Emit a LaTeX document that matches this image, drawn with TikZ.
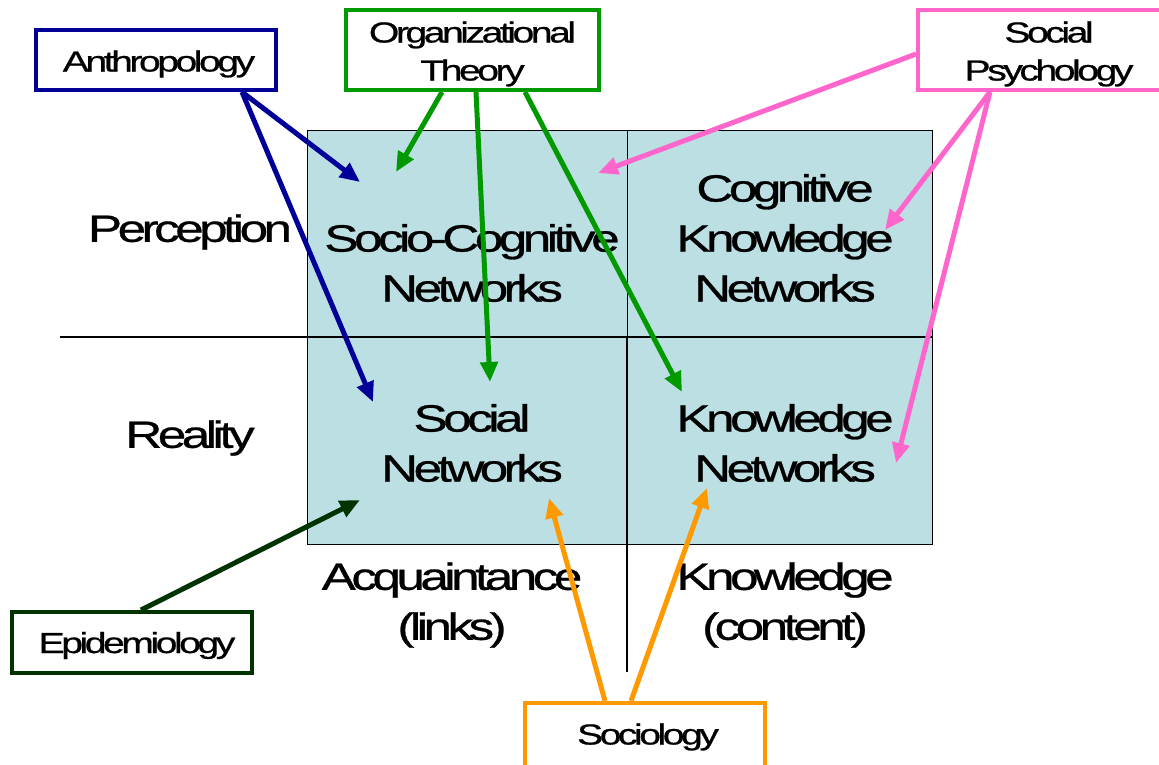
\documentclass[tikz,border=0pt]{standalone}
\usepackage{fontspec}
\newfontfamily\diagfont{Liberation Sans}[FakeStretch=1.35,LetterSpace=-12,FakeBold=0.7]
\usetikzlibrary{arrows.meta,calc}
\definecolor{cellfill}{RGB}{187,223,227}
\definecolor{anthblue}{RGB}{0,0,153}
\definecolor{orggreen}{RGB}{0,153,0}
\definecolor{psypink}{RGB}{255,102,204}
\definecolor{epigreen}{RGB}{0,51,0}
\definecolor{socorange}{RGB}{255,153,0}
\begin{document}
\begin{tikzpicture}[x=1pt,y=-1pt,
  cell/.style={draw=black,line width=1.3pt,fill=cellfill,minimum width=#1,minimum height=207pt,inner sep=0pt},
  bigtext/.style={font=\diagfont\fontsize{38}{50}\selectfont,align=center,inner sep=0pt},
  srcbox/.style={draw=#1,line width=4pt,fill=white,inner sep=0pt},
  boxlabel/.style={font=\diagfont\fontsize{29}{38}\selectfont,align=center,inner sep=0pt},
  link/.style={draw=#1,line width=5pt,-{Triangle[length=20pt,width=17pt]}},
  rule/.style={draw=black,line width=1.3pt}]
\useasboundingbox (0,0) rectangle (1159,764);

% the four cells of the grid
\node[cell=320pt,anchor=north west] (c11) at (307,130) {};
\node[cell=305pt,anchor=north west] (c12) at (627,130) {};
\node[cell=320pt,anchor=north west] (c21) at (307,337) {};
\node[cell=305pt,anchor=north west] (c22) at (627,337) {};
\coordinate (hl) at (60,337);
\coordinate (vl) at (627,672);
\draw[rule] (hl) -- (c22.north east);
\draw[rule] (c12.south west) -- (vl);

% cell and axis labels
\node[bigtext] (perc) at (190,232) {Perception};
\node[bigtext] (real) at (190,438) {Reality};
\node[bigtext] (sc) at (472,263) {Socio-Cognitive\\Networks};
\node[bigtext] (ckn) at (785,238) {Cognitive\\Knowledge\\Networks};
\node[bigtext] (sn) at (472,443) {Social\\Networks};
\node[bigtext] (kn) at (785,443) {Knowledge\\Networks};
\node[bigtext] (acq) at (452,605) {Acquaintance\\(links)};
\node[bigtext] (know) at (785,605) {Knowledge\\(content)};

% disciplines: frames, then their names
\node[srcbox=anthblue,minimum width=240pt,minimum height=60pt] (anth) at (156,60) {};
\node[srcbox=orggreen,minimum width=253pt,minimum height=80pt] (org) at (472.5,50) {};
\node[srcbox=psypink,minimum width=262pt,minimum height=80pt] (psy) at (1049,50) {};
\node[srcbox=epigreen,minimum width=240pt,minimum height=61pt] (epi) at (132,642.5) {};
\node[srcbox=socorange,minimum width=240pt,minimum height=70pt] (soc) at (645,738) {};
\node[boxlabel] (anthT) at ($(anth)+(3,4)$) {Anthropology};
\node[boxlabel] (orgT) at ($(org)+(0,4)$) {Organizational\\Theory};
\node[boxlabel] (psyT) at ($(psy)+(0,4)$) {Social\\Psychology};
\node[boxlabel] (epiT) at ($(epi)+(5,3)$) {Epidemiology};
\node[boxlabel] (socT) at ($(soc)+(3,-1)$) {Sociology};

% arrow targets
\coordinate (tA1) at (360,182);
\coordinate (tA2) at (373,402);
\coordinate (tO1) at (396,172);
\coordinate (tO2) at (490,382);
\coordinate (tO3) at (682,392);
\coordinate (tP1) at (598,173);
\coordinate (tP2) at (885,230);
\coordinate (tP3) at (896,463);
\coordinate (tE) at (360,500);
\coordinate (tS1) at (549,498);
\coordinate (tS2) at (707,488);

% connectors
\draw[link=anthblue] ($(anth.south east)+(-36,0)$) -- (tA1);
\draw[link=anthblue] ($(anth.south east)+(-36,0)$) -- (tA2);
\draw[link=orggreen] ($(org.south west)+(98,0)$) -- (tO1);
\draw[link=orggreen] ($(org.south west)+(132,0)$) -- (tO2);
\draw[link=orggreen] ($(org.south west)+(181,0)$) -- (tO3);
\draw[link=psypink] ($(psy.west)+(0,4)$) -- (tP1);
\draw[link=psypink] ($(psy.south west)+(74,0)$) -- (tP2);
\draw[link=psypink] ($(psy.south west)+(74,0)$) -- (tP3);
\draw[link=epigreen] ($(epi.north west)+(131,0)$) -- (tE);
\draw[link=socorange] ($(soc.north west)+(82,0)$) -- (tS1);
\draw[link=socorange] ($(soc.north west)+(108,0)$) -- (tS2);
\end{tikzpicture}
\end{document}
